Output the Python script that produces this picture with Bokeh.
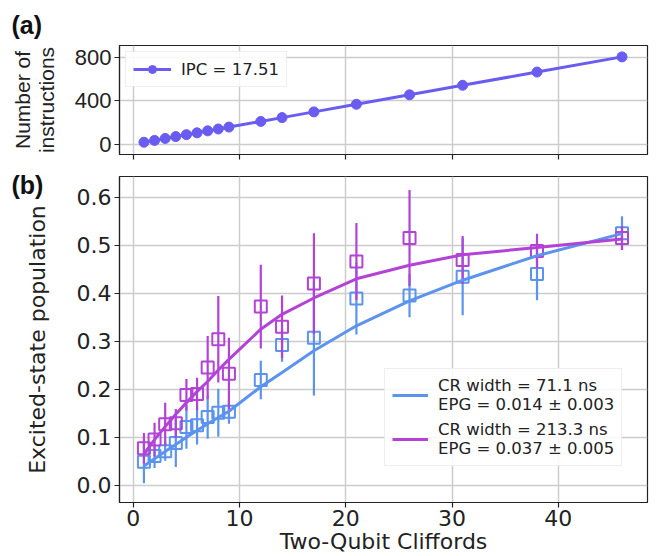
from bokeh.plotting import figure
from bokeh.layouts import column
from bokeh.models import Legend, LegendItem, FixedTicker, Range1d, PrintfTickFormatter
from bokeh.embed import file_html
from bokeh.resources import INLINE

FONT = "DejaVu Sans"
FONT_A = "Liberation Sans"

# ---- data ----
cliffords = [1, 2, 3, 4, 5, 6, 7, 8, 9, 12, 14, 17, 21, 26, 31, 38, 46]
n_instructions = [18, 35, 53, 70, 88, 105, 123, 140, 158, 210, 245, 298, 368, 455, 543, 665, 805]

blue_pop = [0.049, 0.061, 0.071, 0.088, 0.121, 0.125, 0.142, 0.151, 0.153, 0.219, 0.292, 0.307, 0.389, 0.395, 0.434, 0.440, 0.525]
blue_err = [0.045, 0.025, 0.020, 0.050, 0.045, 0.040, 0.045, 0.050, 0.025, 0.040, 0.035, 0.120, 0.075, 0.045, 0.080, 0.055, 0.035]
blue_fit = [0.040, 0.055, 0.070, 0.085, 0.100, 0.114, 0.128, 0.141, 0.154, 0.205, 0.235, 0.280, 0.332, 0.384, 0.427, 0.478, 0.524]

purple_pop = [0.077, 0.095, 0.127, 0.129, 0.188, 0.190, 0.245, 0.304, 0.232, 0.372, 0.330, 0.420, 0.466, 0.515, 0.469, 0.488, 0.515]
purple_err = [0.032, 0.035, 0.045, 0.030, 0.033, 0.034, 0.066, 0.090, 0.075, 0.087, 0.065, 0.105, 0.080, 0.100, 0.050, 0.036, 0.025]
purple_fit = [0.065, 0.095, 0.122, 0.148, 0.172, 0.195, 0.216, 0.240, 0.262, 0.325, 0.356, 0.390, 0.430, 0.458, 0.480, 0.495, 0.513]

x_ticks = [0, 10, 20, 30, 40]
top_y_ticks = [0, 400, 800]
bottom_y_ticks = [0, 0.1, 0.2, 0.3, 0.4, 0.5, 0.6]

top_label = "IPC = 17.51"
blue_label = "CR width = 71.1 ns\nEPG = 0.014 ± 0.003"
purple_label = "CR width = 213.3 ns\nEPG = 0.037 ± 0.005"

C_TOP = "#6a5cf0"
C_BLUE = "#5b93ee"
C_PURPLE = "#b243d6"
DARK = "#222222"


def style(p, font):
    p.outline_line_color = DARK
    p.outline_line_width = 1.2
    for ax in list(p.xaxis) + list(p.yaxis):
        ax.axis_line_color = DARK
        ax.axis_line_width = 1.2
        ax.major_tick_line_color = DARK
        ax.major_tick_line_width = 1.2
        ax.major_tick_out = 5
        ax.major_tick_in = 0
        ax.minor_tick_line_color = None
        ax.major_label_text_font = font
        ax.major_label_text_font_size = "22px"
        ax.major_label_text_color = DARK
        ax.major_label_standoff = 3
        ax.axis_label_text_font = font
        ax.axis_label_text_font_size = "22px"
        ax.axis_label_text_font_style = "normal"
        ax.axis_label_text_color = DARK
    p.grid.grid_line_color = "#cccccc"
    p.grid.grid_line_width = 1.5
    p.title.text_font = "Liberation Sans"
    p.title.text_font_style = "bold"
    p.title.text_font_size = "25px"
    p.title.text_color = "#111111"
    p.title.align = "left"
    p.title.offset = -108


# ---- panel (a) ----
p1 = figure(width=652, height=161, output_backend="svg", toolbar_location=None,
            x_range=Range1d(-1.3, 48.4), y_range=Range1d(-95, 910), title="(a)",
            min_border_left=119, min_border_right=5, min_border_top=45, min_border_bottom=7)
style(p1, FONT_A)
p1.title.standoff = 14
p1.xaxis.ticker = FixedTicker(ticks=x_ticks)
p1.xaxis.major_label_overrides = {t: "" for t in x_ticks}
p1.yaxis.ticker = FixedTicker(ticks=top_y_ticks)
p1.yaxis.axis_label = "Number of\ninstructions"
p1.yaxis.axis_label_text_font_size = "21px"
p1.yaxis.axis_label_text_line_height = 1.05
p1.yaxis.axis_label_standoff = 14
l1 = p1.line(cliffords, n_instructions, line_color=C_TOP, line_width=3)
s1 = p1.scatter(cliffords, n_instructions, marker="circle", size=10, fill_color=C_TOP, line_color=C_TOP)
leg1 = Legend(items=[LegendItem(label=top_label, renderers=[l1, s1])], location="top_left",
              label_text_font=FONT, label_text_font_size="16.5px", label_text_color=DARK,
              glyph_width=38, label_standoff=10, padding=7, margin=6,
              border_line_color="#dddddd", border_line_width=1.2, background_fill_alpha=0.85)
p1.add_layout(leg1)

# ---- panel (b) ----
p2 = figure(width=652, height=395, output_backend="svg", toolbar_location=None,
            x_range=Range1d(-1.3, 48.4), y_range=Range1d(-0.036, 0.643), title="(b)",
            min_border_left=119, min_border_right=5, min_border_top=15, min_border_bottom=51)
style(p2, FONT)
p2.title.standoff = -44
p2.xaxis.ticker = FixedTicker(ticks=x_ticks)
p2.yaxis.ticker = FixedTicker(ticks=bottom_y_ticks)
p2.yaxis.formatter = PrintfTickFormatter(format="%.1f")
p2.yaxis.axis_label = "Excited-state population"
p2.yaxis.axis_label_standoff = 24
p2.xaxis.axis_label = "Two-Qubit Cliffords"
p2.xaxis.axis_label_standoff = 0
p2.xaxis.major_label_standoff = 2

for pop, err, col in ((blue_pop, blue_err, C_BLUE), (purple_pop, purple_err, C_PURPLE)):
    lo = [v - e for v, e in zip(pop, err)]
    hi = [v + e for v, e in zip(pop, err)]
    p2.segment(x0=cliffords, y0=lo, x1=cliffords, y1=hi, line_color=col, line_width=2.2)
    p2.scatter(cliffords, pop, marker="square", size=12, fill_color=None, line_color=col, line_width=2)

lb = p2.line(cliffords, blue_fit, line_color=C_BLUE, line_width=3)
lp = p2.line(cliffords, purple_fit, line_color=C_PURPLE, line_width=3)
leg2 = Legend(items=[LegendItem(label=blue_label, renderers=[lb]),
                     LegendItem(label=purple_label, renderers=[lp])],
              location=(265, 36),
              label_text_font=FONT, label_text_font_size="16.5px", label_text_color=DARK,
              glyph_width=36, label_standoff=10, padding=7, spacing=6,
              border_line_color="#dddddd", border_line_width=1.2, background_fill_alpha=0.85)
p2.add_layout(leg2)

layout = column(p1, p2, spacing=0)
open("out.html", "w").write(file_html(layout, INLINE))
